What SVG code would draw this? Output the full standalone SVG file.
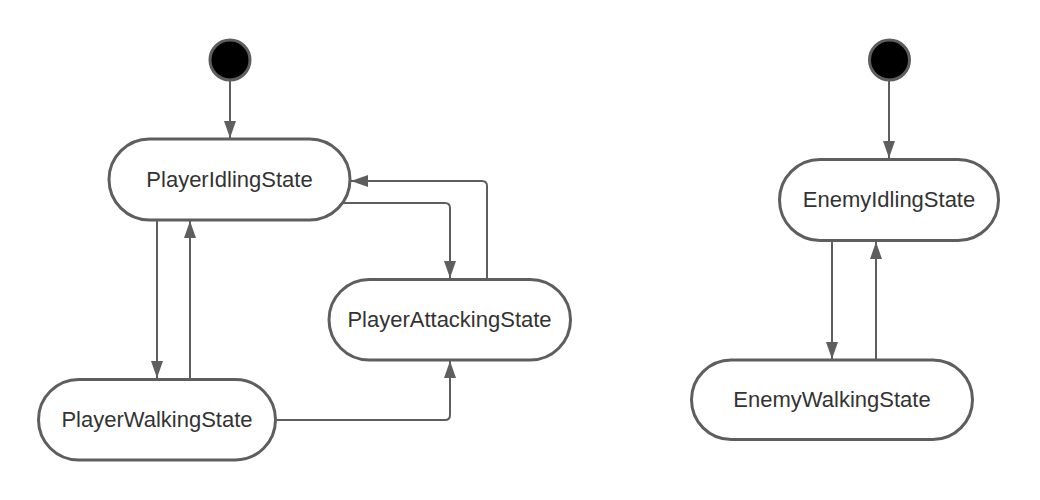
<svg xmlns="http://www.w3.org/2000/svg" width="1040" height="500" viewBox="0 0 1040 500">
  <defs>
    <marker id="arrow" markerUnits="userSpaceOnUse" markerWidth="18" markerHeight="12" refX="17" refY="6" orient="auto">
      <path d="M0,0 L17,6 L0,12 z" fill="#5e5e5e"/>
    </marker>
  </defs>
  <style>
    .state { fill: #ffffff; stroke: #5e5e5e; stroke-width: 3; }
    .start { fill: #000000; stroke: #5e5e5e; stroke-width: 3; }
    .label { font-family: "Liberation Sans", Arial, sans-serif; font-size: 22px; fill: #333333; text-anchor: middle; dominant-baseline: central; }
    .edge { fill: none; stroke: #5e5e5e; stroke-width: 2; marker-end: url(#arrow); }
  </style>
  <rect width="1040" height="500" fill="#ffffff"/>

  <g id="connectors">
    <path class="edge" d="M230,80 L230,138"/>
    <path class="edge" d="M157,220 L157,378"/>
    <path class="edge" d="M190,379 L190,221"/>
    <path class="edge" d="M343,203 L445,203 Q450,203 450,208 L450,278"/>
    <path class="edge" d="M487,279 L487,186 Q487,181 482,181 L351,181"/>
    <path class="edge" d="M275,420 L445,420 Q450,420 450,415 L450,361"/>
    <path class="edge" d="M889,81 L889,158"/>
    <path class="edge" d="M832,241 L832,359"/>
    <path class="edge" d="M876,360 L876,242"/>
  </g>

  <g id="player-start">
    <circle class="start" cx="230" cy="60" r="20"/>
  </g>
  <g id="PlayerIdlingState">
    <rect class="state" x="109" y="139" width="241" height="81" rx="40.5" ry="40.5"/>
    <text class="label" x="229.5" y="179.5">PlayerIdlingState</text>
  </g>
  <g id="PlayerWalkingState">
    <rect class="state" x="38.5" y="379.5" width="237" height="80.5" rx="40.25" ry="40.25"/>
    <text class="label" x="157" y="419.5">PlayerWalkingState</text>
  </g>
  <g id="PlayerAttackingState">
    <rect class="state" x="329" y="279.5" width="241.5" height="80.5" rx="40.25" ry="40.25"/>
    <text class="label" x="449.5" y="319.5">PlayerAttackingState</text>
  </g>

  <g id="enemy-start">
    <circle class="start" cx="889.5" cy="60" r="20"/>
  </g>
  <g id="EnemyIdlingState">
    <rect class="state" x="779.5" y="159.5" width="219" height="81" rx="40.5" ry="40.5"/>
    <text class="label" x="889" y="199">EnemyIdlingState</text>
  </g>
  <g id="EnemyWalkingState">
    <rect class="state" x="691.5" y="360" width="281" height="79.5" rx="39.75" ry="39.75"/>
    <text class="label" x="832" y="399">EnemyWalkingState</text>
  </g>
</svg>
